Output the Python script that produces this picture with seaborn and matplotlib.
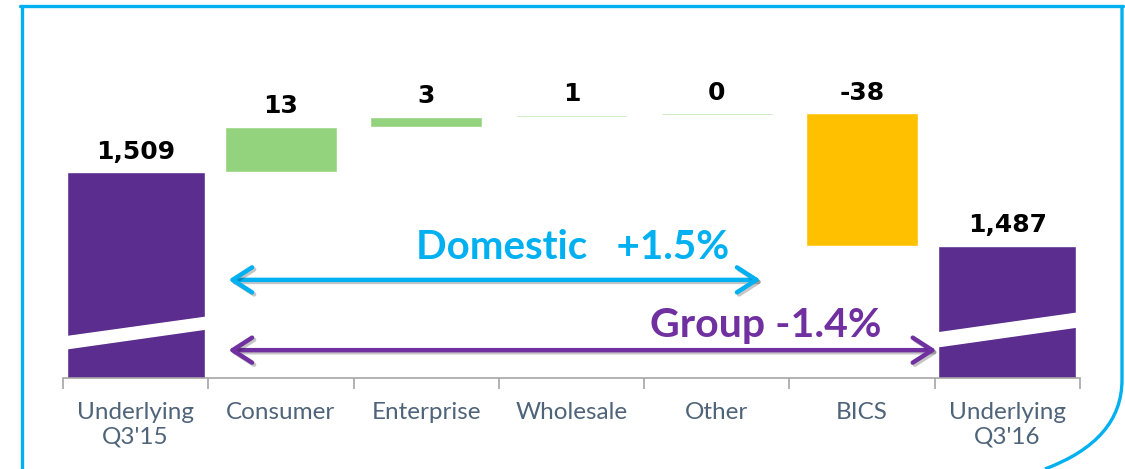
import matplotlib.pyplot as plt
import seaborn as sns
from matplotlib.lines import Line2D
from matplotlib.path import Path
from matplotlib.patches import PathPatch
import matplotlib.patheffects as pe

categories = ["Underlying\nQ3'15", 'Consumer', 'Enterprise', 'Wholesale', 'Other', 'BICS', "Underlying\nQ3'16"]
start_total = 1508.6
changes = [13.2, 2.9, 0.6, 0.4, -38.3]
end_total = 1487.4
domestic_label = 'Domestic   +1.5%'
group_label = 'Group -1.4%'

purple = '#5b2d8e'
green = '#93d37d'
orange = '#ffc000'
cyan = '#00b0f0'
arrow_purple = '#7030a0'
tick_color = '#4f6479'

sns.set_theme(style='white')
plt.rcParams['font.family'] = ['Lato', 'DejaVu Sans']
value_font = dict(fontsize=18, fontweight='bold', color='black', family=['DejaVu Sans'])

fig = plt.figure(figsize=(11.25, 4.69), dpi=100)
ax = fig.add_axes([63 / 1125, 1 - 378 / 469, (1080 - 63) / 1125, (378 - 30) / 469])

# waterfall bars
running = start_total
ax.bar(0, start_total, width=0.95, color=purple)
ax.text(0, start_total + 2.5, f'{start_total:,.0f}', ha='center', va='bottom', **value_font)
for i, ch in enumerate(changes, start=1):
    bottom = running if ch >= 0 else running + ch
    color = green if ch >= 0 else orange
    if abs(ch) < 1:
        color = '#b5e2a3'
    ax.bar(i, abs(ch), bottom=bottom, width=0.77, color=color)
    ax.text(i, max(running, running + ch) + 2.5, f'{ch:.0f}', ha='center', va='bottom', **value_font)
    running += ch
last = len(categories) - 1
ax.bar(last, end_total, width=0.95, color=purple)
ax.text(last, end_total + 2.5, f'{end_total:,.0f}', ha='center', va='bottom', **value_font)

ax.set_xlim(-0.5, len(categories) - 0.5)
ax.set_ylim(1449, 1449 + 348 / 3.45)

# axis break marks on the total bars
xa = ax.get_xaxis_transform()
for x0, (yl0, yl1, yr0, yr1) in [(0, (0.083, 0.118, 0.141, 0.175)),
                                 (last, (0.089, 0.129, 0.147, 0.187))]:
    xs = [x0 - 0.49, x0 + 0.49, x0 + 0.49, x0 - 0.49]
    ys = [yl0, yr0, yr1, yl1]
    ax.fill(xs, ys, color='white', transform=xa, zorder=3)

# arrows
shadow = [pe.SimpleLineShadow(offset=(1.5, -1.5), alpha=0.25), pe.Normal()]
ax.annotate('', xy=(4.32, 0.282), xytext=(0.62, 0.282), xycoords=xa, textcoords=xa,
            arrowprops=dict(arrowstyle='<->,head_length=0.7,head_width=0.45', color=cyan,
                            lw=3.2, mutation_scale=20, path_effects=shadow))
ax.annotate('', xy=(5.53, 0.080), xytext=(0.62, 0.080), xycoords=xa, textcoords=xa,
            arrowprops=dict(arrowstyle='<->,head_length=0.7,head_width=0.45', color=arrow_purple,
                            lw=3.2, mutation_scale=20, path_effects=shadow))
ax.text(3.01, 0.376, domestic_label, transform=xa, ha='center', va='center',
        fontsize=29, fontweight='bold', color=cyan)
ax.text(4.34, 0.152, group_label, transform=xa, ha='center', va='center',
        fontsize=29.5, fontweight='bold', color=arrow_purple)

# axes styling
for side in ['top', 'right', 'left']:
    ax.spines[side].set_visible(False)
ax.spines['bottom'].set_color('#a6a6a6')
ax.spines['bottom'].set_linewidth(1.2)
ax.set_yticks([])
ax.set_xticks(range(len(categories)))
ax.set_xticklabels(categories, fontsize=17.5, color=tick_color, linespacing=1.25)
ax.set_xticks([i - 0.5 for i in range(len(categories) + 1)], minor=True)
ax.tick_params(axis='x', which='major', length=0, pad=17)
ax.tick_params(axis='x', which='minor', length=8, width=1.2, color='#a6a6a6', bottom=True)
ax.grid(False)

# cyan frame
def px(x, y):
    return (x / 1125, 1 - y / 469)

fig.add_artist(Line2D([px(20, 6)[0], px(1123, 6)[0]], [px(20, 6)[1]] * 2,
                      color=cyan, lw=2.4, transform=fig.transFigure))
fig.add_artist(Line2D([px(22, 6)[0]] * 2, [px(22, 6)[1], px(22, 469)[1]],
                      color=cyan, lw=2.4, transform=fig.transFigure))
frame = Path([px(1122, 6), px(1122, 380), px(1122, 440), px(1045, 469)],
             [Path.MOVETO, Path.LINETO, Path.CURVE3, Path.CURVE3])
fig.add_artist(PathPatch(frame, fill=False, edgecolor=cyan, lw=2.4, transform=fig.transFigure))

fig.savefig('out.png', dpi=100)
